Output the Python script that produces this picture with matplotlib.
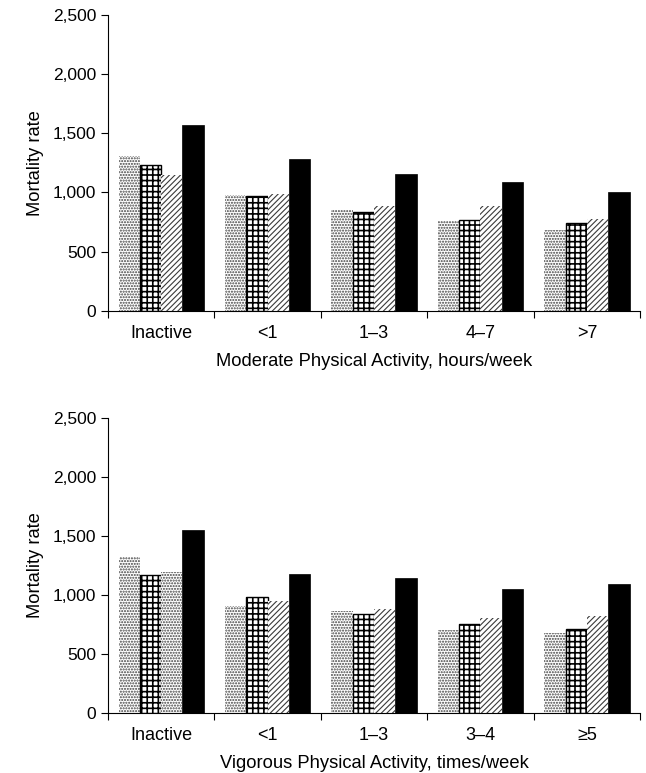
import numpy as np
import matplotlib as mpl
import matplotlib.pyplot as plt

plt.rcParams['font.family'] = ['Liberation Sans', 'DejaVu Sans']

# Moderate physical activity, hours/week
mod_labels = ["Inactive", "<1", "1\u20133", "4\u20137", ">7"]
mod_s1 = [1310, 980, 850, 760, 685]
mod_s2 = [1230, 965, 830, 765, 740]
mod_s3 = [1150, 990, 885, 885, 775]
mod_s4 = [1565, 1285, 1155, 1090, 1000]

# Vigorous physical activity, times/week
vig_labels = ["Inactive", "<1", "1\u20133", "3\u20134", "\u22655"]
vig_s1 = [1320, 905, 865, 700, 680]
vig_s2 = [1170, 980, 835, 750, 710]
vig_s3 = [1195, 950, 880, 800, 820]
vig_s4 = [1555, 1180, 1140, 1050, 1090]

yticks = [0, 500, 1000, 1500, 2000, 2500]
ytick_labels = ["0", "500", "1,000", "1,500", "2,000", "2,500"]

# hatch, hatch colour, hatch line width
styles = [
    ("......", "#404040", 1.0),
    ("+++", "black", 1.2),
    ("//////", "#3a3a3a", 0.8),
    (None, "black", 0),
]


def hatched_bar(ax, p, v, w, style):
    h, c, lw = style
    with mpl.rc_context({"hatch.linewidth": lw}):
        b = ax.bar(p, v, w, color="white", hatch=h, edgecolor=c, linewidth=0)
    for patch in b:
        if hasattr(patch, "set_hatch_linewidth"):
            patch.set_hatch_linewidth(lw)


def draw(ax, labels, series, xlabel, third_dotted_first=False):
    x = np.arange(len(labels))
    w = 0.2
    for k, vals in enumerate(series):
        pos = x - 0.3 + k * w
        if styles[k][0] is None:
            ax.bar(pos, vals, w, color="black", edgecolor="black", linewidth=0.5)
            continue
        for i, (p, v) in enumerate(zip(pos, vals)):
            st = styles[k]
            if k == 2 and third_dotted_first and i == 0:
                st = styles[0]
            hatched_bar(ax, p, v, w, st)
            if k == 1:
                ax.bar(p, v, w, fill=False, edgecolor="black", linewidth=1.0)
    ax.set_xlim(-0.5, 4.5)
    ax.set_ylim(0, 2500)
    ax.set_yticks(yticks)
    ax.set_yticklabels(ytick_labels)
    ax.set_xticks(np.arange(len(labels) + 1) - 0.5)
    ax.set_xticklabels([])
    ax.set_xticks(x, minor=True)
    ax.set_xticklabels(labels, minor=True)
    ax.tick_params(axis="x", which="minor", length=0, pad=10, labelsize=13)
    ax.tick_params(axis="x", which="major", length=5, direction="out")
    ax.tick_params(axis="y", length=5, labelsize=12.5)
    ax.spines["top"].set_visible(False)
    ax.spines["right"].set_visible(False)
    ax.set_ylabel("Mortality rate", fontsize=13.2, labelpad=6)
    ax.set_xlabel(xlabel, fontsize=13.2, labelpad=8)


fig = plt.figure(figsize=(6.46, 7.73), dpi=100)
ax1 = fig.add_axes([0.167, 0.598, 0.824, 0.383])
ax2 = fig.add_axes([0.167, 0.078, 0.824, 0.381])

draw(ax1, mod_labels, [mod_s1, mod_s2, mod_s3, mod_s4],
     "Moderate Physical Activity, hours/week")
draw(ax2, vig_labels, [vig_s1, vig_s2, vig_s3, vig_s4],
     "Vigorous Physical Activity, times/week", third_dotted_first=True)

fig.savefig("out.png", dpi=100)
